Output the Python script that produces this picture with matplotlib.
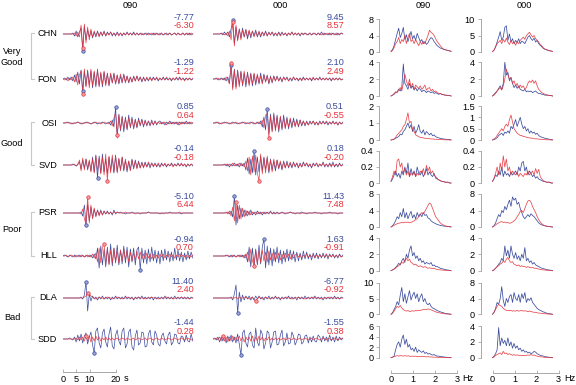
import numpy as np
import matplotlib
matplotlib.use('Agg')
import matplotlib.pyplot as plt

plt.rcParams['font.family'] = ['Liberation Sans', 'DejaVu Sans']

W, H = 576, 385
BLUE = '#3b4c9e'
RED = '#e5323a'
GREY = '#a8a8a8'

stations = ['CHN', 'FON', 'OSI', 'SVD', 'PSR', 'HLL', 'DLA', 'SDD']
groups = ['Very\nGood', 'Good', 'Poor', 'Bad']
components = ['090', '000']
pga_b_090 = ['-7.77', '-1.29', '0.85', '-0.14', '-5.10', '-0.94', '11.40', '-1.44']
pga_r_090 = ['-6.30', '-1.22', '0.64', '-0.18', '6.44', '0.70', '2.40', '0.28']
pga_b_000 = ['9.45', '2.10', '0.51', '0.18', '11.43', '1.63', '-6.77', '-1.55']
pga_r_000 = ['8.57', '2.49', '-0.55', '-0.20', '7.48', '-0.91', '-0.92', '0.38']

# ---- normalised accelerograms (sample step DT seconds) ----
chn_090_b = [0,0,0,0,0,0,1,-2,3,-3,2,6,-17,8,-6,4,-3,3,-4,2,-3,3,-2,2,-2,3,-2,2,-1,2,-2,1,-2,2,-1,1,-2,1,-1,2,-1,1,-1,2,-1,1,-1,1,-1,0,1,-1,1,0,-1,1,-1,1,0,-1,1,-1,0,1,-1,1,-1,0,1,-1,1,-1,0,1,-1,1,-1,1,-1,0]
chn_090_r = [0,0,0,0,0,0,0,1,-2,2,-3,9,-14,10,-9,7,-6,5,-3,3,-2,2,-3,2,-1,2,-2,1,-1,2,-1,1,-1,1,-2,1,-1,1,-1,1,-1,1,-1,1,-1,1,-1,0,1,-1,0,1,-1,0,1,-1,1,0,-1,1,0,-1,1,-1,0,1,-1,0,1,-1,1,0,-1,1,-1,0,1,-1,1,0]
fon_090_b = [0,1,-1,2,-1,2,-2,4,-3,7,-5,9,-12,8,-7,9,-6,8,-9,7,-8,10,-7,6,-8,7,-5,6,-7,5,-4,6,-5,4,-5,3,-4,5,-3,3,-4,2,-3,3,-2,3,-2,2,-3,2,-2,1,-2,2,-1,2,-1,1,-2,1,-1,2,-1,1,-1,1,-2,1,-1,1,-1,2,-1,1,-1,1,-1,1,-1,0]
fon_090_r = [0,-1,1,-2,1,-1,2,-3,5,-6,4,8,-15,10,-8,7,-9,10,-7,8,-6,9,-8,7,-6,8,-7,5,-6,6,-4,5,-5,4,-4,5,-3,4,-4,3,-3,2,-3,2,-2,3,-2,2,-2,1,-2,2,-1,1,-2,1,-1,2,-1,1,-1,1,-1,2,-1,1,-1,1,-1,2,-1,1,-1,1,-2,1,-1,1,-1,1]
osi_090_b = [0,0,0,1,0,0,-1,0,0,1,0,-1,0,0,1,0,0,-1,0,1,0,-1,0,0,1,0,-1,0,1,-2,3,-4,16,-15,9,-8,7,-9,6,-7,8,-5,6,-6,4,-5,5,-3,4,-4,3,-3,2,-3,3,-2,2,-2,1,2,-1,1,-2,1,-1,2,-1,1,-1,1,-2,1,-1,1,-1,2,-1,1,-1,0]
osi_090_r = [0,0,1,0,0,-1,0,0,0,1,0,0,-1,0,0,1,0,-1,0,0,1,0,0,-1,0,1,0,0,-1,2,-3,5,10,-12,8,-7,6,-6,5,-6,5,-4,4,-5,3,-4,3,-2,3,-3,2,-2,2,-2,1,-2,2,-1,1,-1,1,-1,1,-2,1,-1,1,-1,1,-1,1,-2,1,-1,1,-1,1,-1,1,0]
svd_090_b = [0,0,0,0,0,0,1,0,-1,1,3,-4,5,-3,6,-5,4,-6,8,-7,10,-13,9,-8,11,-7,6,-9,8,-6,7,-8,10,-7,6,-5,8,-6,5,-7,4,-5,6,-4,5,-3,4,-3,3,-2,3,-2,2,-3,2,-1,2,-2,1,-2,2,-1,1,-2,1,-1,2,-1,1,-1,2,-1,1,-1,1,-2,1,-1,1,-1]
svd_090_r = [0,0,0,0,0,0,0,1,-1,0,5,-6,7,-5,6,-4,5,-7,6,-8,9,-6,7,-9,8,-10,11,-16,9,-8,10,-7,9,-8,7,-6,8,-5,6,-5,4,-6,5,-3,4,-4,3,-3,2,-3,2,-2,3,-1,2,-2,1,-1,2,-2,1,-1,2,-1,1,-1,1,-2,1,-1,1,-1,2,-1,1,-1,1,-1,1,0]
psr_090_b = [0,0,0,0,0,0,0,0,0,0,0,1,-3,8,-12,9,-8,6,-5,4,-3,3,-2,3,-2,2,-1,2,-1,1,-2,3,-1,1,0,1,0,0,-1,0,0,0,1,0,0,0,0,-1,0,0,0,0,1,0,0,0,0,0,0,-1,0,0,0,0,0,1,0,0,0,0,0,0,-1,0,0,0,0,0,0,0]
psr_090_r = [0,0,0,0,0,0,0,0,0,0,0,-1,4,-6,-11,16,-10,8,-6,5,-4,3,-3,2,-2,2,-1,1,-1,1,-1,1,0,1,0,0,0,0,1,0,0,0,0,0,-1,0,0,0,0,0,0,0,1,0,0,0,0,0,0,0,0,-1,0,0,0,0,0,0,0,0,0,1,0,0,0,0,0,0,0,0]
hll_090_b = [0,1,0,-1,1,0,-1,1,-1,0,1,-1,1,-1,0,1,-1,1,-2,2,-3,8,-12,10,-9,7,-11,9,-8,12,-10,8,-7,11,-9,6,-8,10,-7,9,-11,7,-6,8,-9,6,9,-14,8,-7,6,-8,7,-6,9,-5,6,-7,5,-8,6,-5,7,-4,5,-6,4,-5,8,-4,6,-5,4,-6,3,-4,5,-3,4,-2]
hll_090_r = [0,0,1,-1,0,1,0,-1,1,0,-1,1,0,-1,1,-1,1,-1,2,-2,3,-6,8,-7,9,12,-8,7,-9,6,-7,8,-6,5,-7,6,-5,7,-4,5,-6,4,-5,3,-4,5,-3,4,-3,2,-3,3,-2,2,-3,2,-2,1,-2,2,-1,2,-2,1,-1,2,-1,1,-2,1,-1,2,-1,1,-1,1,-2,1,-1,1]
dla_090_b = [0,0,0,0,0,0,0,0,0,0,0,1,-1,3,16,-13,4,-3,2,-1,1,-2,1,-1,2,-1,1,-1,1,-2,1,-1,2,-1,1,-1,1,-1,2,-1,1,-1,1,-2,1,-1,1,-1,2,-1,1,-1,1,-1,1,-2,1,-1,1,-1,1,-1,2,-1,1,-1,1,-1,2,-1,1,-1,1,-1,1,-1,1,-1,1,0]
dla_090_r = [0,0,0,0,0,0,0,0,0,0,0,0,0,1,2,5,4,2,1,0,-1,0,1,0,0,-1,0,1,0,0,-1,0,0,1,0,0,-1,0,0,1,0,0,0,-1,0,0,1,0,0,0,-1,0,0,0,1,0,0,0,-1,0,0,0,0,1,0,0,0,-1,0,0,0,0,1,0,0,0,0,-1,0,0]
sdd_090_b = [0,0,0,0,1,0,-1,2,-3,4,-2,5,-4,3,6,-5,2,7,-6,-14,8,11,-4,-9,6,10,-3,-8,5,12,-7,-10,4,9,-2,-6,8,11,-9,-5,7,10,-8,-11,3,9,-6,-4,7,6,-8,-7,5,9,-3,-6,8,4,-5,-7,3,6,-2,-5,4,7,-6,-3,5,4,-4,-5,3,2,-3,4,-2,-3,5,-2]
sdd_090_r = [0,0,0,0,0,0,0,0,1,-1,2,-1,2,-2,3,-2,3,-3,2,-2,3,-1,2,-2,1,-1,2,-1,1,-1,1,-1,0,1,-1,0,1,0,-1,1,0,-1,0,1,-1,0,1,0,-1,0,1,-1,0,1,0,-1,0,1,0,-1,1,0,-1,0,1,0,-1,0,1,0,-1,0,1,0,-1,0,1,0,-1,0]

chn_000_b = [0,0,0,0,0,1,-1,2,-1,2,-3,5,14,-10,7,-6,5,-4,6,-3,4,-5,3,-4,3,-2,4,-3,2,-3,2,-2,3,-2,2,-1,2,-2,1,-2,2,-1,2,-1,1,-2,1,-1,2,-1,1,-1,1,-2,1,-1,1,0,-1,1,-1,1,0,-1,1,-1,2,-1,1,0,-1,1,-1,1,0,-1,1,-1,1,0]
chn_000_r = [0,0,0,0,0,0,1,-1,1,-2,3,-6,12,-12,9,-7,5,-6,4,-3,5,-3,4,-2,3,-3,2,-2,3,-2,2,-1,2,-2,1,-1,2,-1,1,-1,1,-2,1,-1,1,-1,1,-1,2,-1,1,-1,1,-1,1,0,1,-1,0,1,-1,0,1,-1,1,0,-1,1,-1,0,1,-1,1,0,-1,1,-1,0,1,0]
fon_000_b = [0,0,1,-1,0,1,-1,1,-2,2,-4,14,-9,10,-8,9,-6,8,-7,6,-8,7,-5,6,-7,5,-6,4,-5,6,-4,5,-3,4,-5,3,-4,3,-2,3,-2,2,-3,2,-1,2,-2,1,-2,2,-1,1,-2,1,-1,2,-1,1,-1,1,-2,1,-1,1,-1,2,-1,1,-1,1,-1,1,-2,1,-1,1,-1,1,-1,0]
fon_000_r = [0,0,0,1,-1,0,1,-1,2,-1,-5,16,-11,9,-10,8,-8,7,-6,8,-5,6,-7,5,-5,6,-4,5,-4,3,-5,4,-3,3,-4,2,-3,3,-2,2,-2,1,-2,2,-1,1,-2,1,-1,2,-1,1,-1,1,-2,1,-1,1,-1,1,-1,2,-1,1,-1,1,-1,1,-1,1,-1,1,-1,1,-1,1,-1,1,-1,0]
osi_000_b = [0,0,1,0,-1,0,0,1,0,0,-1,0,1,0,0,-1,0,0,1,0,-1,0,0,1,0,-1,0,1,-1,2,-4,6,-7,14,-10,9,-8,10,-7,8,-9,6,-7,8,-5,6,-6,4,-5,5,-3,4,-4,3,-3,2,-3,2,-2,2,-1,2,-2,1,-2,2,-1,2,-1,1,-2,1,-1,2,-1,1,-2,1,-1,1]
osi_000_r = [0,0,0,1,0,-1,0,0,1,0,0,-1,0,0,1,0,-1,0,0,1,0,0,-1,0,1,0,-1,0,1,-1,3,-5,8,9,-15,7,-9,8,-8,6,-7,7,-5,5,-6,4,-4,5,-3,3,-4,2,-3,3,-2,2,-2,1,-2,1,-1,2,-1,1,-2,1,-1,1,-1,2,-1,1,-1,1,-1,1,-2,1,-1,0]
svd_000_b = [0,0,0,0,0,0,0,1,-1,1,-2,1,-1,2,-1,1,-2,2,-1,2,-5,7,-9,6,-8,14,-10,8,-7,9,-6,8,-5,7,-8,6,-5,4,-6,5,-4,3,-5,4,-3,4,-3,2,-3,3,-2,2,-3,2,-2,3,-1,2,-2,1,-3,2,-1,2,-2,1,-1,3,-2,1,-2,2,-1,3,-2,1,-2,2,-1,1]
svd_000_r = [0,0,0,0,0,0,0,0,1,-1,1,-1,2,-1,1,-1,2,-1,1,-2,4,-6,8,-10,9,-7,10,-8,-16,11,-9,7,-8,9,-6,5,-7,6,-4,5,-3,4,-4,3,-3,2,-2,3,-2,2,-1,2,-2,1,-2,2,-1,2,-1,1,-2,1,-1,2,-1,1,-1,2,-1,1,-1,1,-2,1,-1,1,-1,1,-1,0]
psr_000_b = [0,0,0,0,0,0,0,0,0,1,-1,2,-4,17,-12,8,-6,5,-4,3,-3,2,-2,3,-2,1,-2,2,-1,1,-2,1,-1,1,-1,2,-1,1,-1,1,-1,0,1,0,-1,0,0,1,0,0,-1,0,0,0,1,0,0,-1,0,0,0,0,1,0,0,0,-1,0,0,0,0,1,0,0,0,0,-1,0,0,0]
psr_000_r = [0,0,0,0,0,0,0,0,1,-1,2,-3,6,-8,11,-10,8,-6,5,-4,3,-3,2,-2,1,-1,1,-1,1,-1,1,-1,1,0,0,1,0,-1,0,0,0,0,0,0,0,0,0,1,0,0,0,0,0,-1,0,0,0,0,0,0,0,0,0,0,0,0,0,0,0,0,0,0,0,0,0,0,0,0,0,0]
hll_000_b = [0,0,0,0,0,0,0,0,1,0,-1,1,-1,1,-1,0,1,-1,1,-2,2,-6,9,-11,8,-10,7,-9,11,-8,9,17,-12,10,-9,8,-10,7,-6,9,-7,6,-8,5,-6,7,-5,6,-4,5,-6,4,-5,3,-4,5,-3,4,-3,2,-4,3,-2,3,-3,2,-2,3,-2,2,-3,2,-1,2,-2,1,-2,2,-1,1]
hll_000_r = [0,0,0,0,0,0,0,0,0,1,0,-1,1,0,-1,1,-1,1,-1,1,-2,4,-6,7,-5,-10,6,-8,5,-7,6,-5,4,-6,5,-4,3,-5,4,-3,3,-4,2,-3,3,-2,2,-3,2,-2,1,2,-1,1,-2,1,-1,2,-1,1,-1,1,-2,1,-1,1,-1,1,-1,2,-1,1,-1,1,-1,1,-1,1,-1,0]
dla_000_b = [0,0,0,0,0,0,0,0,0,0,0,1,-2,4,13,-15,6,-4,3,-2,2,-1,2,-2,1,-2,2,-1,2,-1,1,-2,1,-1,2,-1,1,-1,2,-1,1,-2,1,-1,1,-1,2,-1,1,-1,1,-2,1,-1,1,-1,2,-1,1,-1,1,-1,2,-1,1,-1,1,-2,1,-1,1,-1,1,-1,2,-1,1,-1,1,0]
dla_000_r = [0,0,0,0,0,0,0,0,0,0,0,0,0,0,1,-1,1,0,0,0,1,0,-1,0,1,-2,-3,-1,1,0,-1,0,1,0,0,-1,0,0,1,0,0,-1,0,0,0,1,0,0,-1,0,0,0,1,0,0,0,-1,0,0,0,0,1,0,0,0,0,-1,0,0,0,0,1,0,0,0,0,0,-1,0,0]
sdd_000_b = [0,1,-1,2,-3,2,-2,3,-4,3,-2,4,-3,2,-4,5,-5,-16,6,9,-4,-8,5,7,-6,-9,11,-3,-7,9,5,-10,-4,8,6,-9,-3,7,8,-6,-5,4,9,-7,-3,6,-5,-4,7,3,-6,-2,5,4,-5,-3,3,4,-4,2,-3,3,-2,-3,4,2,-3,3,-2,2,-3,4,-2,2,-3,3,-2,2,-1,1]
sdd_000_r = [0,0,1,-1,2,-2,3,-2,2,-3,2,-2,3,-1,2,-2,3,-2,2,-3,2,-1,2,-2,3,-3,2,-2,3,-1,2,-2,1,-1,2,-1,1,-1,1,-1,1,-1,0,1,-1,0,1,0,-1,1,0,-1,0,1,-1,0,1,0,-1,0,1,-1,0,1,0,-1,0,1,0,-1,1,0,-1,0,1,0,-1,0,1,0]

# ---- Fourier amplitude spectra (frequency step DF Hz) ----
chn_090_fb = [0.1,0.5,1.5,3.0,4.5,5.8,3.5,4.5,6.0,3.0,4.2,2.5,3.8,5.0,3.2,4.0,2.8,4.5,3.5,2.5,3.0,2.0,2.5,1.8,2.2,3.0,3.5,3.2,2.5,2.0,1.5,1.2,0.9,0.8,0.6,0.5,0.4,0.3,0.2,0.1]
chn_090_fr = [0.0,0.3,1.0,2.0,2.5,3.5,2.0,3.0,2.5,4.0,2.0,3.5,4.5,2.5,3.0,2.0,3.0,2.2,1.5,2.5,1.8,2.5,2.0,3.0,4.0,5.3,4.8,4.5,4.0,3.2,2.5,2.0,1.5,1.0,0.7,0.5,0.4,0.3,0.2,0.1]
chn_000_fb = [0.1,0.5,1.5,3.0,4.5,6.2,3.5,4.5,7.5,8.0,3.5,5.5,3.0,4.0,2.5,3.5,2.8,4.0,2.5,3.2,3.0,2.5,3.5,4.5,5.0,4.0,3.5,4.2,3.0,3.5,2.5,2.0,1.5,1.0,0.8,0.6,0.4,0.3,0.2,0.1]
chn_000_fr = [0.0,0.5,1.5,2.5,3.0,3.5,2.5,3.8,3.0,4.2,3.0,2.2,3.5,2.5,3.0,2.0,3.0,2.5,3.5,4.0,4.5,3.8,5.0,5.5,6.0,5.2,4.5,5.0,4.0,3.5,3.0,2.2,1.8,1.2,0.8,0.6,0.5,0.3,0.2,0.1]
fon_090_fb = [0.0,0.1,0.2,0.4,0.5,0.8,0.6,1.0,3.8,1.5,1.2,0.8,1.5,0.9,1.2,0.7,1.0,0.6,0.9,0.8,0.5,0.7,0.6,0.4,0.6,0.5,0.4,0.5,0.3,0.4,0.3,0.2,0.3,0.2,0.15,0.1,0.1,0.05,0.05,0.0]
fon_090_fr = [0.0,0.1,0.3,0.5,0.4,0.7,1.0,0.6,1.5,2.6,1.8,1.2,2.0,1.0,1.5,0.8,1.3,1.1,0.9,1.2,0.8,1.0,1.3,0.7,0.9,1.0,0.6,0.8,0.5,0.6,0.4,0.3,0.3,0.2,0.2,0.1,0.1,0.05,0.05,0.0]
fon_000_fb = [0.0,0.2,0.4,0.6,0.9,1.2,0.8,1.5,4.0,2.5,2.8,1.8,2.2,1.5,1.0,1.3,0.9,1.2,0.8,0.7,0.6,0.8,0.5,0.6,0.5,0.6,0.4,0.5,0.6,0.4,0.3,0.3,0.2,0.2,0.1,0.1,0.1,0.05,0.05,0.0]
fon_000_fr = [0.0,0.1,0.3,0.6,0.8,1.0,0.7,1.2,2.0,3.2,2.5,2.0,2.2,1.5,1.8,1.2,1.5,1.0,1.3,1.0,1.2,0.8,1.0,1.5,1.8,1.6,1.9,1.5,1.8,1.2,0.8,0.6,0.4,0.3,0.2,0.15,0.1,0.05,0.05,0.0]
osi_090_fb = [0.0,0.02,0.05,0.1,0.15,0.2,0.35,0.3,0.5,0.6,0.8,1.0,0.7,0.9,0.5,0.8,0.4,0.6,0.9,0.5,0.4,0.6,0.3,0.5,0.4,0.3,0.4,0.25,0.3,0.2,0.15,0.12,0.1,0.08,0.06,0.05,0.04,0.03,0.02,0.01]
osi_090_fr = [0.0,0.02,0.05,0.15,0.3,0.4,0.5,0.6,0.8,0.9,1.2,1.6,1.0,1.1,0.6,0.5,0.3,0.25,0.2,0.15,0.15,0.12,0.1,0.1,0.08,0.08,0.06,0.06,0.05,0.04,0.04,0.03,0.03,0.02,0.02,0.01,0.01,0.01,0.0,0.0]
osi_000_fb = [0.0,0.02,0.05,0.1,0.2,0.25,0.3,0.2,0.35,0.3,0.4,0.3,0.6,0.5,0.7,0.9,0.6,0.8,1.0,0.7,0.5,0.6,0.4,0.5,0.3,0.4,0.3,0.35,0.25,0.3,0.2,0.15,0.12,0.1,0.08,0.06,0.05,0.03,0.02,0.01]
osi_000_fr = [0.0,0.05,0.1,0.2,0.3,0.4,0.5,0.4,0.6,0.7,0.6,0.9,1.1,0.8,0.5,0.4,0.3,0.25,0.2,0.2,0.15,0.15,0.12,0.1,0.1,0.08,0.08,0.06,0.05,0.05,0.04,0.03,0.03,0.02,0.02,0.01,0.01,0.01,0.0,0.0]
svd_090_fb = [0.02,0.05,0.1,0.15,0.08,0.12,0.06,0.15,0.1,0.2,0.12,0.25,0.08,0.18,0.1,0.15,0.08,0.2,0.12,0.1,0.15,0.08,0.12,0.18,0.1,0.14,0.1,0.08,0.12,0.06,0.05,0.04,0.03,0.02,0.02,0.01,0.01,0.01,0.0,0.0]
svd_090_fr = [0.02,0.08,0.15,0.1,0.28,0.3,0.2,0.25,0.12,0.18,0.1,0.15,0.08,0.12,0.1,0.14,0.08,0.12,0.1,0.15,0.12,0.18,0.1,0.22,0.15,0.2,0.12,0.15,0.1,0.08,0.06,0.04,0.03,0.02,0.02,0.01,0.01,0.01,0.0,0.0]
svd_000_fb = [0.02,0.05,0.1,0.08,0.15,0.1,0.2,0.08,0.15,0.1,0.12,0.08,0.14,0.1,0.12,0.15,0.1,0.2,0.15,0.25,0.27,0.15,0.2,0.1,0.15,0.12,0.08,0.1,0.06,0.08,0.05,0.04,0.03,0.02,0.02,0.01,0.01,0.01,0.0,0.0]
svd_000_fr = [0.02,0.06,0.12,0.2,0.1,0.25,0.15,0.34,0.2,0.3,0.15,0.2,0.1,0.15,0.12,0.1,0.14,0.08,0.12,0.1,0.08,0.12,0.1,0.15,0.1,0.12,0.15,0.1,0.18,0.12,0.17,0.08,0.05,0.03,0.02,0.01,0.01,0.01,0.0,0.0]
psr_090_fb = [0.0,0.3,0.8,1.5,2.5,2.0,3.5,2.5,4.5,2.2,3.5,2.0,3.0,3.8,2.2,3.0,2.0,3.5,2.5,3.2,2.5,3.5,2.8,3.0,2.2,2.0,1.5,1.2,1.0,0.8,0.6,0.5,0.4,0.3,0.25,0.2,0.15,0.1,0.05,0.0]
psr_090_fr = [0.0,0.2,0.4,0.6,0.8,0.9,1.0,1.1,1.0,1.2,1.1,1.2,1.0,1.1,1.3,1.5,1.8,2.0,2.5,3.0,3.5,3.2,3.8,4.5,5.2,5.8,5.5,4.5,3.5,2.5,2.0,1.5,1.0,0.7,0.5,0.3,0.2,0.15,0.1,0.05]
psr_000_fb = [0.0,0.3,1.0,2.0,3.0,2.5,4.0,3.5,5.0,4.2,5.5,6.5,5.0,7.3,6.5,7.0,5.5,6.0,4.5,3.5,2.5,2.0,2.5,3.0,2.5,3.2,2.8,2.5,2.0,1.5,1.0,0.7,0.5,0.4,0.3,0.2,0.15,0.1,0.05,0.0]
psr_000_fr = [0.0,0.2,0.5,0.8,1.0,1.2,1.3,1.1,1.2,1.0,1.1,0.9,1.0,1.2,1.5,1.8,2.5,3.0,3.8,4.0,3.5,4.5,5.5,6.3,6.5,6.0,5.0,4.2,3.5,2.5,1.8,1.2,0.8,0.5,0.3,0.2,0.15,0.1,0.05,0.0]
hll_090_fb = [0.0,0.1,0.2,0.4,0.6,0.9,0.7,1.2,1.5,1.0,2.0,1.5,2.5,3.0,1.8,2.2,1.5,1.8,1.2,1.5,1.0,1.2,0.8,1.0,0.9,0.8,1.0,0.6,0.7,0.5,0.5,0.4,0.3,0.25,0.2,0.15,0.1,0.08,0.05,0.0]
hll_090_fr = [0.0,0.1,0.2,0.3,0.5,0.6,0.8,1.0,0.9,1.3,1.5,1.2,1.4,1.0,0.9,0.7,0.8,0.6,0.5,0.6,0.5,0.4,0.5,0.4,0.3,0.35,0.3,0.25,0.3,0.2,0.15,0.12,0.1,0.08,0.06,0.05,0.04,0.03,0.02,0.0]
hll_000_fb = [0.0,0.1,0.3,0.5,0.8,1.0,1.5,1.2,3.0,1.8,2.5,1.5,3.0,2.0,1.5,2.2,1.4,1.8,1.2,2.0,1.5,2.8,1.2,1.5,1.0,1.2,0.8,1.0,0.7,0.6,0.5,0.4,0.3,0.25,0.2,0.15,0.1,0.08,0.05,0.0]
hll_000_fr = [0.0,0.1,0.3,0.5,0.6,0.8,0.9,1.2,1.0,1.4,1.6,1.2,1.0,1.1,0.8,0.7,0.6,0.7,0.5,0.6,0.5,0.5,0.4,0.5,0.4,0.35,0.4,0.3,0.3,0.25,0.2,0.15,0.12,0.1,0.08,0.06,0.05,0.03,0.02,0.0]
dla_090_fb = [0.0,0.5,1.5,2.5,4.0,3.0,6.0,8.5,4.0,6.5,3.5,5.5,7.5,4.5,6.0,7.0,5.0,6.5,4.0,5.5,6.5,4.0,5.0,3.5,3.0,3.5,2.5,2.0,1.8,1.5,1.2,1.0,0.8,0.6,0.5,0.3,0.2,0.15,0.1,0.0]
dla_090_fr = [0.0,0.3,1.0,1.8,2.5,2.2,2.8,2.0,1.5,1.2,1.0,1.2,0.9,1.0,1.1,1.0,1.2,1.1,1.3,1.2,1.4,1.5,1.6,1.5,1.7,1.6,1.4,1.2,1.0,0.8,0.6,0.5,0.4,0.3,0.2,0.15,0.1,0.08,0.05,0.0]
dla_000_fb = [0.0,0.5,1.5,3.0,2.5,4.0,7.0,3.5,2.0,4.0,3.0,4.5,5.0,3.0,5.5,4.0,3.5,5.0,3.0,5.2,4.0,5.5,3.0,4.0,3.5,4.2,3.0,2.5,2.0,1.5,1.2,1.0,0.8,0.6,0.5,0.3,0.2,0.15,0.1,0.0]
dla_000_fr = [0.0,0.5,1.2,2.0,2.5,2.2,2.0,1.5,1.2,1.0,1.0,0.9,1.0,0.8,0.9,0.8,1.0,0.8,0.9,1.0,0.8,0.9,0.8,0.7,0.8,0.7,0.6,0.5,0.5,0.4,0.3,0.3,0.2,0.2,0.15,0.1,0.08,0.05,0.03,0.0]
sdd_090_fb = [0.0,0.1,0.3,1.5,2.5,3.0,2.0,3.5,4.3,2.5,3.5,2.0,2.5,1.5,1.8,1.2,2.0,1.0,1.5,1.2,1.0,1.3,0.8,1.0,0.7,0.8,0.6,0.5,0.6,0.4,0.3,0.3,0.2,0.2,0.15,0.1,0.08,0.05,0.03,0.0]
sdd_090_fr = [0.0,0.1,0.2,0.3,0.4,0.3,0.4,0.35,0.3,0.4,0.3,0.35,0.3,0.25,0.3,0.25,0.3,0.2,0.25,0.2,0.2,0.25,0.2,0.15,0.2,0.15,0.15,0.12,0.1,0.1,0.08,0.06,0.05,0.04,0.03,0.02,0.02,0.01,0.01,0.0]
sdd_000_fb = [0.0,0.2,0.5,1.0,3.8,1.5,2.5,1.8,2.2,1.5,2.5,1.5,2.0,1.2,1.8,1.2,1.5,1.0,1.2,0.8,1.0,0.7,0.8,0.6,0.7,0.5,0.6,0.8,0.7,0.5,0.4,0.3,0.25,0.2,0.15,0.1,0.08,0.05,0.03,0.0]
sdd_000_fr = [0.0,0.1,0.3,0.4,0.5,0.6,0.4,0.8,0.5,0.6,0.4,0.5,0.4,0.3,0.4,0.3,0.35,0.3,0.3,0.25,0.3,0.25,0.3,0.35,0.3,0.4,0.3,0.35,0.25,0.2,0.15,0.12,0.1,0.08,0.05,0.04,0.03,0.02,0.01,0.0]

spec_ticks_090 = [[0, 4, 8], [0, 2, 4], [0, 1, 2], [0, 0.2, 0.4], [0, 4, 8], [0, 2, 4], [0, 5, 10], [0, 2, 4, 6]]
spec_ticks_000 = [[0, 5, 10], [0, 2, 4], [0, 0.5, 1, 1.5], [0, 0.2, 0.4], [0, 4, 8], [0, 2, 4], [0, 4, 8], [0, 2, 4]]

waves = {}
specs = {}
for st in stations:
    for comp in components:
        for s in ('b', 'r'):
            waves[(st, comp, s)] = globals()[f'{st.lower()}_{comp}_{s}']
            specs[(st, comp, s)] = globals()[f'{st.lower()}_{comp}_f{s}']

# ---- layout (pixels) ----
DT = 0.62
DF = 0.07
PX_PER_S = 2.65
TMAX = 50
HALF = 22
base_y = [34, 79, 123, 165, 213, 256, 298, 339]
wave_x0 = {'090': 63, '000': 213}
pga_x = {'090': 194, '000': 344}
spec_left = {'090': 379, '000': 480.5}
PX_PER_HZ = 22
spec_top = [19.3, 62.3, 106, 151, 194, 237.7, 282.7, 326]
spec_zero = [51.7, 96, 140, 183, 227, 270.7, 314.3, 357.7]
FS = 6.6

fig = plt.figure(figsize=(W / 100, H / 100), dpi=100)


def add_ax(x0, y_top, w, h):
    return fig.add_axes([x0 / W, 1 - (y_top + h) / H, w / W, h / H])


def ftext(x, y, s, **kw):
    fig.text(x / W, 1 - y / H, s, fontsize=FS, **kw)


pga = {('090', 'b'): pga_b_090, ('090', 'r'): pga_r_090,
       ('000', 'b'): pga_b_000, ('000', 'r'): pga_r_000}

for comp in components:
    for ri, st in enumerate(stations):
        ax = add_ax(wave_x0[comp], base_y[ri] - HALF, TMAX * PX_PER_S, 2 * HALF)
        ax.set_xlim(0, TMAX)
        ax.set_ylim(-HALF, HALF)
        ax.axis('off')
        for s, c, a in (('b', BLUE, 1.0), ('r', RED, 0.9)):
            y = np.array(waves[(st, comp, s)], float)
            t = np.arange(len(y)) * DT
            ax.plot(t, y, color=c, lw=0.5, alpha=a)
        for s, c, fc in (('b', BLUE, '#9aa4d8'), ('r', RED, '#f2a0a3')):
            y = np.array(waves[(st, comp, s)], float)
            k = int(np.argmax(np.abs(y)))
            ax.plot([k * DT], [y[k]], 'o', ms=2.5, mfc=fc, mec=c, mew=0.5, clip_on=False, zorder=5)
        ftext(pga_x[comp], base_y[ri] - 16.5, pga[(comp, 'b')][ri], color=BLUE, ha='right', va='center')
        ftext(pga_x[comp], base_y[ri] - 8.0, pga[(comp, 'r')][ri], color=RED, ha='right', va='center')

# station labels
for ri, st in enumerate(stations):
    ftext(57, base_y[ri], st, ha='right', va='center')

# group labels and brackets
over = fig.add_axes([0, 0, 1, 1])
over.set_xlim(0, W)
over.set_ylim(H, 0)
over.axis('off')
group_y = [57, 143, 230, 317]
for gi, g in enumerate(groups):
    ftext(12, group_y[gi], g, ha='center', va='center', linespacing=1.15)
    y0, y1 = base_y[2 * gi] - 1, base_y[2 * gi + 1]
    over.plot([34, 31, 31, 34], [y0, y0, y1, y1], color='#c8c8c8', lw=0.8)

# titles
ftext(130, 6, '090', ha='center', va='center')
ftext(280, 6, '000', ha='center', va='center')
ftext(423, 6, '090', ha='center', va='center')
ftext(524, 6, '000', ha='center', va='center')

# spectra
freq_lo = -12 / PX_PER_HZ
for comp, ticks_all in (('090', spec_ticks_090), ('000', spec_ticks_000)):
    for ri, st in enumerate(stations):
        h = spec_zero[ri] - spec_top[ri]
        ax = add_ax(spec_left[comp], spec_top[ri], (3 - freq_lo) * PX_PER_HZ, h)
        ticks = ticks_all[ri]
        ax.set_xlim(freq_lo, 3)
        ax.set_ylim(0, ticks[-1])
        for s, c, a in (('b', BLUE, 1.0), ('r', RED, 0.9)):
            v = np.array(specs[(st, comp, s)], float)
            f = np.arange(len(v)) * DF
            ax.plot(f, v, color=c, lw=0.55, alpha=a, clip_on=False)
        for sp in ('top', 'right', 'bottom'):
            ax.spines[sp].set_visible(False)
        ax.spines['left'].set_color(GREY)
        ax.spines['left'].set_linewidth(0.7)
        ax.set_xticks([])
        ax.set_yticks(ticks)
        ax.set_yticklabels([('%g' % v) for v in ticks])
        ax.tick_params(axis='y', labelsize=FS, length=2.5, width=0.6, color=GREY, pad=1.5)
        ax.patch.set_visible(False)

    # frequency axis
    axf = add_ax(spec_left[comp], 371.7, (3 - freq_lo) * PX_PER_HZ, 1)
    axf.set_xlim(freq_lo, 3)
    for sp in ('top', 'right', 'left'):
        axf.spines[sp].set_visible(False)
    axf.spines['bottom'].set_bounds(0, 3)
    axf.spines['bottom'].set_color(GREY)
    axf.spines['bottom'].set_linewidth(0.7)
    axf.set_yticks([])
    axf.set_xticks([0, 1, 2, 3])
    axf.set_xticklabels(['0', '1', '2', '3'])
    axf.tick_params(axis='x', labelsize=FS, length=2.5, width=0.6, color=GREY, direction='in', pad=2)
    axf.patch.set_visible(False)
    ftext(spec_left[comp] + (3.5 - freq_lo) * PX_PER_HZ, 378.5, 'Hz', ha='center', va='center')

# time scale bar
axt = add_ax(wave_x0['090'], 371, 20 * PX_PER_S, 1)
axt.set_xlim(0, 20)
for sp in ('top', 'right', 'left'):
    axt.spines[sp].set_visible(False)
axt.spines['bottom'].set_color(GREY)
axt.spines['bottom'].set_linewidth(0.7)
axt.set_yticks([])
axt.set_xticks([0, 5, 10, 20])
axt.set_xticklabels(['0', '5', '10', '20'])
axt.tick_params(axis='x', labelsize=FS, length=2.5, width=0.6, color=GREY, direction='in', pad=2)
axt.patch.set_visible(False)
ftext(wave_x0['090'] + 23.8 * PX_PER_S, 378.5, 's', ha='center', va='center')

fig.savefig('out.png', dpi=100)
